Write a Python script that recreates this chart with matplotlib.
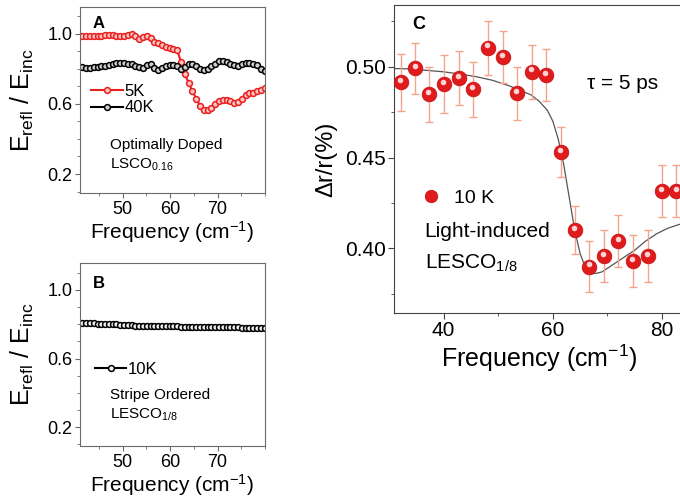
import matplotlib
matplotlib.use("Agg")
import matplotlib.pyplot as plt
from matplotlib.transforms import ScaledTranslation
from matplotlib.ticker import MultipleLocator, FixedLocator

plt.rcParams['font.family'] = ['Liberation Sans', 'DejaVu Sans']
plt.rcParams['mathtext.fontset'] = 'custom'
plt.rcParams['mathtext.rm'] = 'Liberation Sans'
plt.rcParams['mathtext.it'] = 'Liberation Sans:italic'

# ---- panel A / B : reflectivity ratio vs frequency ----
freq_ab = [41.5, 42.3, 43.1, 43.9, 44.7, 45.5, 46.3, 47.1, 47.9, 48.7,
           49.5, 50.3, 51.1, 51.9, 52.7, 53.5, 54.3, 55.1, 55.9, 56.7,
           57.5, 58.3, 59.1, 59.9, 60.7, 61.5, 62.3, 63.1, 63.9, 64.7,
           65.5, 66.3, 67.1, 67.9, 68.7, 69.5, 70.3, 71.1, 71.9, 72.7,
           73.5, 74.3, 75.1, 75.9, 76.7, 77.5, 78.3, 79.1, 79.9]

lsco_5k = [0.985, 0.985, 0.988, 0.990, 0.990, 0.990, 0.993, 0.993, 0.993, 0.990,
           0.990, 0.985, 0.995, 1.000, 0.985, 0.970, 0.980, 0.985, 0.975, 0.955,
           0.945, 0.935, 0.925, 0.920, 0.915, 0.905, 0.840, 0.770, 0.720, 0.673,
           0.630, 0.590, 0.565, 0.565, 0.575, 0.600, 0.615, 0.620, 0.620, 0.615,
           0.605, 0.610, 0.630, 0.650, 0.660, 0.665, 0.675, 0.680, 0.690]

lsco_40k = [0.810, 0.805, 0.805, 0.810, 0.810, 0.815, 0.815, 0.820, 0.830, 0.835,
            0.835, 0.835, 0.830, 0.825, 0.815, 0.810, 0.805, 0.820, 0.825, 0.805,
            0.795, 0.805, 0.815, 0.820, 0.820, 0.815, 0.800, 0.810, 0.825, 0.825,
            0.815, 0.800, 0.795, 0.800, 0.815, 0.830, 0.845, 0.845, 0.840, 0.830,
            0.820, 0.815, 0.830, 0.835, 0.835, 0.830, 0.820, 0.800, 0.785]

lesco_10k = [0.808, 0.807, 0.806, 0.805, 0.804, 0.803, 0.802, 0.801, 0.800, 0.799,
             0.797, 0.795, 0.794, 0.793, 0.792, 0.791, 0.790, 0.790, 0.789, 0.789,
             0.788, 0.788, 0.788, 0.787, 0.787, 0.787, 0.786, 0.786, 0.786, 0.785,
             0.785, 0.785, 0.784, 0.784, 0.784, 0.783, 0.783, 0.783, 0.782, 0.782,
             0.781, 0.781, 0.780, 0.780, 0.780, 0.779, 0.779, 0.778, 0.778]

# ---- panel C : light-induced dr/r ----
freq_c = [32.2, 34.85, 37.4, 40.05, 42.76, 45.4, 48.1, 50.8, 53.4, 56.1,
          58.75, 61.5, 64.0, 66.7, 69.3, 72.0, 74.7, 77.4, 80.0, 82.6]
dr_c = [0.4914, 0.4991, 0.4848, 0.4903, 0.4938, 0.4876, 0.5105, 0.5052, 0.4853, 0.4973,
        0.4956, 0.4529, 0.4101, 0.3899, 0.3958, 0.4040, 0.3930, 0.3958, 0.4316, 0.4317]
dr_err = [0.0157, 0.0140, 0.0153, 0.0160, 0.0150, 0.0152, 0.0149, 0.0144, 0.0147, 0.0148,
          0.0143, 0.0138, 0.0131, 0.0139, 0.0144, 0.0145, 0.0142, 0.0142, 0.0142, 0.0142]

fit_x = [31, 34, 37, 40, 43, 46, 49, 52, 54, 56, 57.5, 59, 60, 61, 62, 63, 64, 65, 66,
         67, 68, 69, 70, 71, 72, 73, 74, 75, 76, 77, 78, 79, 80, 81, 82, 83, 84]
fit_y = [0.4990, 0.4988, 0.4980, 0.4972, 0.4960, 0.4945, 0.4925, 0.4895, 0.4870, 0.4845,
         0.4810, 0.4760, 0.4700, 0.4600, 0.4460, 0.4280, 0.4100, 0.3970, 0.3890,
         0.3860, 0.3862, 0.3870, 0.3890, 0.3910, 0.3930, 0.3950, 0.3970, 0.3990, 0.4015,
         0.4040, 0.4060, 0.4080, 0.4095, 0.4110, 0.4120, 0.4130, 0.4140]

fig = plt.figure(figsize=(6.8, 4.97), dpi=100)

spine_grey = '#6b6b6b'


def style_small(ax):
    ax.set_xlim(41, 80)
    ax.set_ylim(0.09, 1.155)
    ax.xaxis.set_major_locator(FixedLocator([50, 60, 70]))
    ax.xaxis.set_minor_locator(MultipleLocator(5))
    ax.yaxis.set_major_locator(FixedLocator([0.2, 0.6, 1.0]))
    ax.yaxis.set_minor_locator(MultipleLocator(0.1))
    ax.yaxis.set_major_formatter(plt.FuncFormatter(lambda v, p: f'{v:.1f}'))
    for s in ax.spines.values():
        s.set_color(spine_grey)
    ax.tick_params(which='both', direction='out', color=spine_grey, labelsize=13)
    ax.tick_params(which='major', length=3.5, pad=2)
    ax.tick_params(which='minor', length=2)
    ax.set_xlabel('Frequency (cm$^{\\mathregular{-1}}$)', fontsize=15, labelpad=1)
    ax.set_ylabel('E$_{\\mathregular{refl}}$ / E$_{\\mathregular{inc}}$', fontsize=18, labelpad=8)


# Panel A
axA = fig.add_axes([0.1176, 0.6111, 0.2721, 0.3755])
axA.plot(freq_ab, lsco_5k, '-o', color='#e8201e', lw=1.5, ms=4.2,
         mfc='#ffc4c4', mec='#e8201e', mew=1.1, label='5K')
axA.plot(freq_ab, lsco_40k, '-o', color='black', lw=1.5, ms=4.2,
         mfc='#cfcfcf', mec='black', mew=1.1, label='40K')
style_small(axA)
axA.text(0.07, 0.95, 'A', transform=axA.transAxes, fontsize=12, fontweight='bold',
         va='top', ha='left')
axA.legend(loc='upper left', bbox_to_anchor=(0.06, 0.585), frameon=False, fontsize=12,
           handlelength=1.9, handletextpad=0.1, labelspacing=0.08, borderpad=0,
           borderaxespad=0, numpoints=1)
axA.text(0.16, 0.26, 'Optimally Doped', transform=axA.transAxes, fontsize=11,
         va='center', ha='left')
axA.text(0.16, 0.155, 'LSCO$_{\\mathregular{0.16}}$', transform=axA.transAxes, fontsize=11,
         va='center', ha='left')

# Panel B
axB = fig.add_axes([0.1176, 0.1026, 0.2721, 0.3676])
axB.plot(freq_ab, lesco_10k, '-o', color='black', lw=1.5, ms=4.2,
         mfc='#f2f2f2', mec='black', mew=1.1, label='10K')
style_small(axB)
axB.text(0.07, 0.93, 'B', transform=axB.transAxes, fontsize=12, fontweight='bold',
         va='top', ha='left')
axB.legend(loc='upper left', bbox_to_anchor=(0.08, 0.46), frameon=False, fontsize=12,
           handlelength=1.9, handletextpad=0.1, borderpad=0, borderaxespad=0, numpoints=1)
axB.text(0.16, 0.278, 'Stripe Ordered', transform=axB.transAxes, fontsize=11,
         va='center', ha='left')
axB.text(0.16, 0.17, 'LESCO$_{\\mathregular{1/8}}$', transform=axB.transAxes, fontsize=11,
         va='center', ha='left')

# Panel C
axC = fig.add_axes([0.5799, 0.3708, 0.426, 0.6191])
axC.plot(fit_x, fit_y, '-', color='#555555', lw=0.9, zorder=2)
axC.errorbar(freq_c, dr_c, yerr=dr_err, fmt='none', ecolor='#f4a48a', elinewidth=1,
             capsize=3, capthick=1, zorder=3)
axC.plot(freq_c, dr_c, 'o', color='#e01b1b', ms=10.5, mec='#c81414', mew=0.6,
         zorder=4, label='10 K')
hl = axC.transData + ScaledTranslation(-0.6 / 72, 1.6 / 72, fig.dpi_scale_trans)
axC.plot(freq_c, dr_c, 'o', color='#ffdede', ms=4, mew=0, alpha=0.95,
         transform=hl, zorder=5)
axC.set_xlim(31, 84)
axC.set_ylim(0.3645, 0.534)
axC.xaxis.set_major_locator(MultipleLocator(20))
axC.xaxis.set_minor_locator(MultipleLocator(10))
axC.yaxis.set_major_locator(MultipleLocator(0.05))
axC.yaxis.set_minor_locator(MultipleLocator(0.025))
axC.yaxis.set_major_formatter(plt.FuncFormatter(lambda v, p: f'{v:.2f}'))
for s in axC.spines.values():
    s.set_color('#444444')
axC.tick_params(which='both', direction='out', color='#444444', labelsize=15)
axC.tick_params(which='major', length=4, pad=2)
axC.tick_params(which='minor', length=2.5)
axC.set_xlabel('Frequency (cm$^{\\mathregular{-1}}$)', fontsize=18, labelpad=2)
axC.set_ylabel('\u0394r/r(%)', fontsize=17, labelpad=6)
axC.text(0.063, 0.965, 'C', transform=axC.transAxes, fontsize=13, fontweight='bold',
         va='top', ha='left')
axC.text(0.665, 0.745, '\u03c4 = 5 ps', transform=axC.transAxes, fontsize=15,
         va='center', ha='left')
axC.legend(loc='center left', bbox_to_anchor=(0.085, 0.372), frameon=False, fontsize=14,
           handlelength=1.2, handletextpad=0.6, borderpad=0, borderaxespad=0,
           numpoints=1, markerscale=0.85)
axC.text(0.105, 0.263, 'Light-induced', transform=axC.transAxes, fontsize=15,
         va='center', ha='left')
axC.text(0.105, 0.16, 'LESCO$_{\\mathregular{1/8}}$', transform=axC.transAxes, fontsize=15,
         va='center', ha='left')

fig.savefig('out.png', dpi=100)
